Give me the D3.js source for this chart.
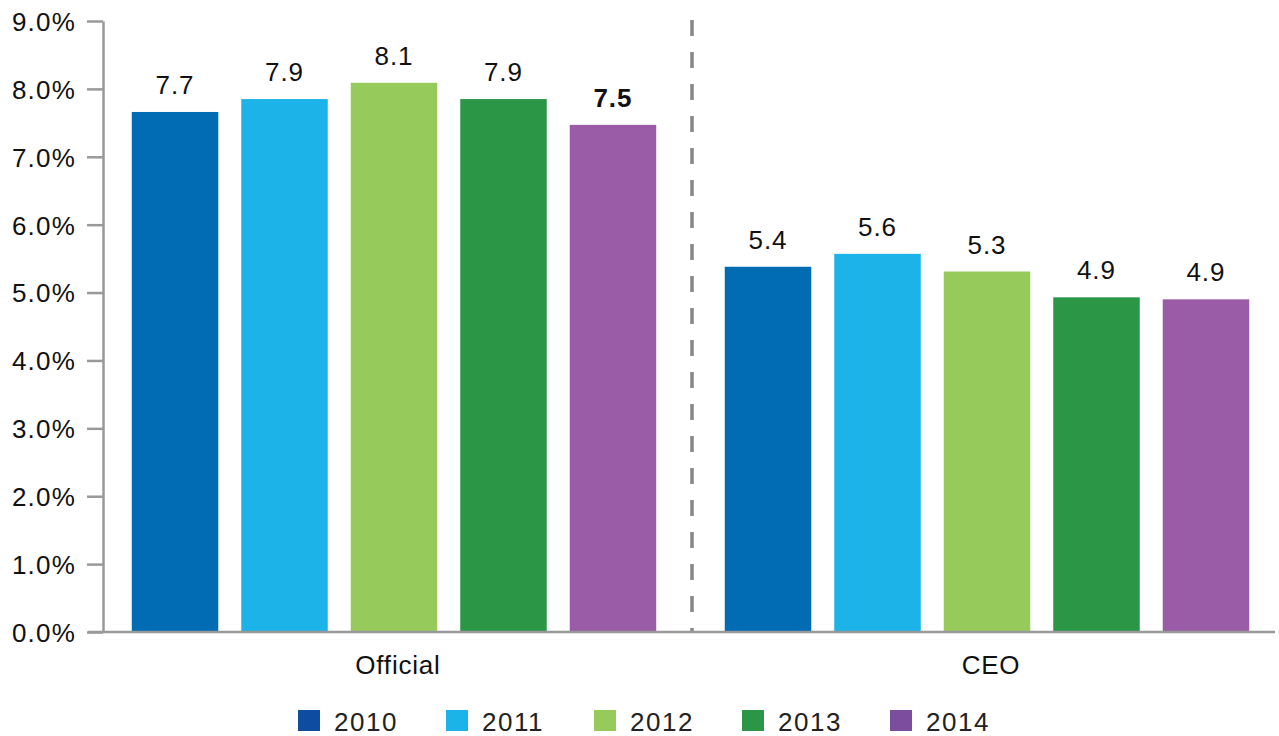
<!DOCTYPE html>
<html><head><meta charset="utf-8">
<script src="https://cdn.jsdelivr.net/npm/d3@7"></script>
<style>body{margin:0;background:#fff}svg{display:block;font-family:"Liberation Sans",Arial,sans-serif}</style>
</head><body><svg id="c" width="1279" height="736"></svg>
<script>
const groups = ["Official", "CEO"];
const years = ["2010", "2011", "2012", "2013", "2014"];
const officialValues = [7.66, 7.85, 8.09, 7.85, 7.47];
const ceoValues = [5.38, 5.57, 5.31, 4.93, 4.90];
const officialLabels = ["7.7", "7.9", "8.1", "7.9", "7.5"];
const ceoLabels = ["5.4", "5.6", "5.3", "4.9", "4.9"];
const barColors = ["#016bb4", "#1bb3e8", "#96cb5c", "#2c9647", "#9a5ca6"];
const legendColors = ["#0d4c9e", "#1bb3e8", "#96cb5c", "#2c9647", "#7a4d9e"];
const yTicks = [0, 1, 2, 3, 4, 5, 6, 7, 8, 9];

const svg = d3.select("#c");
const y = d3.scaleLinear().domain([0, 9]).range([632, 21]);
const x0 = d3.scaleBand().domain(groups).range([97.5, 1283.5]).padding(0);
const x1 = d3.scaleBand().domain(years).range([0, x0.bandwidth()]).paddingInner(0.21).paddingOuter(0.313);
const color = d3.scaleOrdinal().domain(years).range(barColors);
const lcolor = d3.scaleOrdinal().domain(years).range(legendColors);

const data = [
  {g: "Official", vals: officialValues, labels: officialLabels},
  {g: "CEO", vals: ceoValues, labels: ceoLabels}
];

// y axis
const yAxis = d3.axisLeft(y).tickValues(yTicks).tickFormat(d => d.toFixed(1) + "%").tickSize(16).tickSizeOuter(0);
const ya = svg.append("g").attr("transform", "translate(103,0)").call(yAxis);
ya.selectAll("line").attr("stroke", "#999").attr("stroke-width", 2.5);
ya.select(".domain").attr("stroke", "#999").attr("stroke-width", 2.5);
ya.selectAll("text").attr("font-size", 26).attr("fill", "#111").attr("x", -27).attr("dy", "0.36em")
  .attr("letter-spacing", 1.2).attr("font-family", "Liberation Sans, Arial, sans-serif");

// dashed divider
svg.append("line").attr("x1", 692).attr("x2", 692).attr("y1", 20).attr("y2", y(0))
  .attr("stroke", "#878787").attr("stroke-width", 3.5).attr("stroke-dasharray", "16,16");

// bars
const gg = svg.selectAll("g.grp").data(data).join("g").attr("class", "grp")
  .attr("transform", d => `translate(${x0(d.g)},0)`);
gg.selectAll("rect").data(d => d.vals.map((v, i) => ({year: years[i], v}))).join("rect")
  .attr("x", d => x1(d.year)).attr("width", x1.bandwidth())
  .attr("y", d => y(d.v)).attr("height", d => y(0) - y(d.v))
  .attr("fill", d => color(d.year));
gg.selectAll("text.val").data(d => d.vals.map((v, i) => ({year: years[i], v, lab: d.labels[i], bold: d.g === "Official" && i === 4}))).join("text")
  .attr("class", "val")
  .attr("x", d => x1(d.year) + x1.bandwidth() / 2).attr("y", d => y(d.v) - 18)
  .attr("text-anchor", "middle").attr("font-size", 26).attr("fill", "#111").attr("letter-spacing", 1)
  .attr("font-weight", d => d.bold ? "bold" : "normal")
  .text(d => d.lab);

// x axis line
svg.append("line").attr("x1", 88).attr("x2", 1275).attr("y1", y(0)).attr("y2", y(0))
  .attr("stroke", "#999").attr("stroke-width", 2.7);

// category labels
svg.selectAll("text.cat").data(groups).join("text").attr("class", "cat")
  .attr("x", d => x0(d) + x0.bandwidth() / 2 + 4).attr("y", 674)
  .attr("text-anchor", "middle").attr("font-size", 26).attr("letter-spacing", 0.8).attr("fill", "#111").text(d => d);

// legend
const leg = svg.selectAll("g.leg").data(years).join("g").attr("class", "leg")
  .attr("transform", (d, i) => `translate(${298 + i * 148},710)`);
leg.append("rect").attr("width", 22).attr("height", 21).attr("fill", d => lcolor(d));
leg.append("text").attr("x", 36).attr("y", 21).attr("font-size", 26).attr("letter-spacing", 1.5).attr("fill", "#222").text(d => d);
</script></body></html>
